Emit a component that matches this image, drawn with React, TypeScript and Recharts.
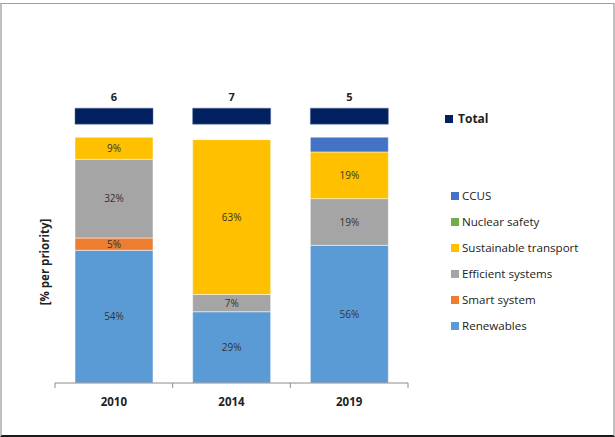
import React from 'react';
import { BarChart, Bar, XAxis, YAxis, Legend, LabelList } from 'recharts';

const categories = ['2010', '2014', '2019'];
const renewables = [54, 29, 56];
const smartSystem = [5, 0, 0];
const efficientSystems = [32, 7, 19];
const sustainableTransport = [9, 63, 19];
const nuclearSafety = [0, 0, 0];
const ccus = [0, 0, 6];
const totals = [6, 7, 5];

const series = [
  { key: 'renewables', name: 'Renewables', color: '#5B9BD5', values: renewables, labelled: true },
  { key: 'smart', name: 'Smart system', color: '#ED7D31', values: smartSystem, labelled: true },
  { key: 'efficient', name: 'Efficient systems', color: '#A5A5A5', values: efficientSystems, labelled: true },
  { key: 'transport', name: 'Sustainable transport', color: '#FFC000', values: sustainableTransport, labelled: true },
  { key: 'nuclear', name: 'Nuclear safety', color: '#70AD47', values: nuclearSafety, labelled: true },
  { key: 'ccus', name: 'CCUS', color: '#4472C4', values: ccus, labelled: false },
];

const TOTAL_COLOR = '#002060';

const data = categories.map((c, i) => {
  const row: any = { cat: c, total: totals[i] };
  series.forEach((s) => {
    row[s.key] = s.values[i];
  });
  return row;
});

const W = 615;
const H = 437;
const PLOT_LEFT = 55;
const PLOT_RIGHT = 408;
const PLOT_TOP = 88;
const PLOT_BOTTOM = 383;
const XAXIS_H = 30;
const HALF_BAND = (PLOT_RIGHT - PLOT_LEFT) / categories.length / 2;
const FONT = '"Open Sans", "Noto Sans", sans-serif';

const CategoryTick = (props: any) => {
  const { x, payload, index } = props;
  const ly = PLOT_BOTTOM;
  return (
    <g>
      <line x1={x - HALF_BAND} y1={ly} x2={x - HALF_BAND} y2={ly + 5} stroke="#8c8c8c" strokeWidth={1} />
      {index === categories.length - 1 && (
        <line x1={x + HALF_BAND} y1={ly} x2={x + HALF_BAND} y2={ly + 5} stroke="#8c8c8c" strokeWidth={1} />
      )}
      <text x={x} y={ly + 23} textAnchor="middle" fontFamily={FONT} fontSize={11.5} fontWeight="bold" fill="#222">
        {payload.value}
      </text>
    </g>
  );
};

const TotalLabel = (props: any) => {
  const { x, y, width, index } = props;
  return (
    <text x={x + width / 2} y={y - 7} textAnchor="middle" fontFamily={FONT} fontSize={11} fontWeight="bold" fill="#222">
      {totals[index]}
    </text>
  );
};

const LegendContent = () => {
  const items = [...series].reverse();
  return (
    <div style={{ position: 'relative', width: 170, height: 230, fontFamily: FONT, color: '#222' }}>
      <div style={{ position: 'absolute', left: 2, top: 2, display: 'flex', alignItems: 'center' }}>
        <span style={{ display: 'inline-block', width: 8, height: 8, background: TOTAL_COLOR, marginRight: 5 }} />
        <span style={{ fontSize: 12, fontWeight: 'bold' }}>Total</span>
      </div>
      {items.map((s, i) => (
        <div key={s.key} style={{ position: 'absolute', left: 8, top: 80 + i * 26, display: 'flex', alignItems: 'center' }}>
          <span style={{ display: 'inline-block', width: 8, height: 8, background: s.color, marginRight: 3 }} />
          <span style={{ fontSize: 11.6 }}>{s.name}</span>
        </div>
      ))}
    </div>
  );
};

export default function App() {
  return (
    <div style={{ position: 'absolute', left: 0, top: 0, width: W, height: H, background: '#fff' }}>
      <div
        style={{
          position: 'absolute',
          left: 0,
          top: 3,
          width: W - 4,
          height: H - 6,
          borderTop: '1px solid #a0a0a0',
          borderLeft: '2px solid #c0c0c0',
          borderRight: '2px solid #c0c0c0',
          borderBottom: '2px solid #1a1a1a',
        }}
      />
      <div style={{ position: 'absolute', left: 0, top: 0 }}>
        <BarChart
          width={W}
          height={H}
          data={data}
          margin={{ top: PLOT_TOP, right: W - PLOT_RIGHT, bottom: H - PLOT_BOTTOM - XAXIS_H, left: PLOT_LEFT }}
          barSize={78}
        >
          <XAxis
            dataKey="cat"
            xAxisId="main"
            height={XAXIS_H}
            axisLine={{ stroke: '#8c8c8c' }}
            tickLine={false}
            tick={<CategoryTick />}
            interval={0}
          />
          <XAxis dataKey="cat" xAxisId="total" hide />
          <YAxis hide domain={[0, 120]} allowDataOverflow />
          {series.map((s) => (
            <Bar
              key={s.key}
              dataKey={s.key}
              name={s.name}
              stackId="a"
              xAxisId="main"
              fill={s.color}
              stroke="#ffffff"
              strokeWidth={0.5}
              isAnimationActive={false}
            >
              {s.labelled && (
                <LabelList
                  dataKey={s.key}
                  position="center"
                  fontFamily={FONT}
                  fontSize={10}
                  fill="#333"
                  formatter={(v: any) => (v ? `${v}%` : '')}
                />
              )}
            </Bar>
          ))}
          <Bar
            dataKey={() => [105.3, 111.8]}
            name="Total"
            xAxisId="total"
            fill={TOTAL_COLOR}
            stroke="#5a6f9a"
            strokeWidth={0.5}
            isAnimationActive={false}
            label={<TotalLabel />}
          />
          <Legend
            layout="vertical"
            align="center"
            verticalAlign="middle"
            content={<LegendContent />}
            wrapperStyle={{ position: 'absolute', left: 443, top: 108, width: 170, height: 230 }}
          />
          <text
            x={44}
            y={262}
            transform="rotate(-90 44 262)"
            textAnchor="middle"
            dominantBaseline="central"
            fontFamily={FONT}
            fontSize={11.5}
            fontWeight="bold"
            fill="#222"
          >
            [% per priority]
          </text>
        </BarChart>
      </div>
    </div>
  );
}
